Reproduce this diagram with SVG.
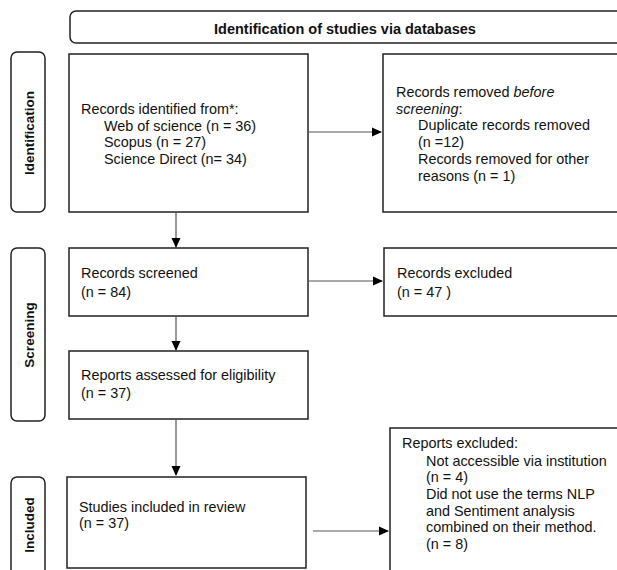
<svg xmlns="http://www.w3.org/2000/svg" width="617" height="570" viewBox="0 0 617 570">
<style>
.box{fill:#fff;stroke:#222;stroke-width:1.5}
.side{fill:#fff;stroke:#222;stroke-width:1.5}
.t{font-family:"Liberation Sans",Arial,sans-serif;font-size:14.4px;fill:#111}
.b{font-family:"Liberation Sans",Arial,sans-serif;font-size:14.5px;font-weight:bold;fill:#111}
.sl{font-family:"Liberation Sans",Arial,sans-serif;font-size:13.5px;font-weight:bold;fill:#111}
.c{stroke:#555;stroke-width:1.2;fill:none;marker-end:url(#ah)}
</style>
<defs>
<marker id="ah" markerWidth="10" markerHeight="10" refX="9" refY="5" orient="auto" markerUnits="userSpaceOnUse">
<path d="M0,0.5 L10,5 L0,9.5 Z" fill="#000"/>
</marker>
</defs>
<rect width="617" height="570" fill="#fff"/>

<g id="header">
<rect class="box" x="70" y="11" width="560" height="32" rx="6"/>
<text class="b" x="345" y="34" text-anchor="middle">Identification of studies via databases</text>
</g>

<g id="side-identification">
<rect class="side" x="11" y="52" width="34" height="160" rx="6"/>
<text class="sl" transform="translate(34,133) rotate(-90)" text-anchor="middle">Identification</text>
</g>
<g id="side-screening">
<rect class="side" x="11" y="248" width="34" height="173" rx="6"/>
<text class="sl" transform="translate(34,335) rotate(-90)" text-anchor="middle">Screening</text>
</g>
<g id="side-included">
<rect class="side" x="11" y="477" width="34" height="110" rx="6"/>
<text class="sl" transform="translate(34,525) rotate(-90)" text-anchor="middle">Included</text>
</g>

<g id="records-identified">
<rect class="box" x="69" y="54" width="239" height="158"/>
<text class="t" x="81" y="114">Records identified from*:</text>
<text class="t" x="104" y="131">Web of science (n = 36)</text>
<text class="t" x="104" y="147">Scopus (n = 27)</text>
<text class="t" x="104" y="164">Science Direct (n= 34)</text>
</g>

<g id="records-removed">
<rect class="box" x="383" y="54" width="250" height="158"/>
<text class="t" x="396" y="97">Records removed <tspan font-style="italic">before</tspan></text>
<text class="t" x="396" y="114"><tspan font-style="italic">screening</tspan>:</text>
<text class="t" x="418" y="130">Duplicate records removed</text>
<text class="t" x="418" y="147">(n =12)</text>
<text class="t" x="418" y="164">Records removed for other</text>
<text class="t" x="418" y="181">reasons (n = 1)</text>
</g>

<g id="records-screened">
<rect class="box" x="69" y="248" width="239" height="68"/>
<text class="t" x="81" y="278">Records screened</text>
<text class="t" x="81" y="297">(n = 84)</text>
</g>

<g id="records-excluded">
<rect class="box" x="384" y="248" width="250" height="68"/>
<text class="t" x="397" y="278">Records excluded</text>
<text class="t" x="397" y="297">(n = 47 )</text>
</g>

<g id="reports-assessed">
<rect class="box" x="69" y="351" width="239" height="68"/>
<text class="t" x="81" y="380">Reports assessed for eligibility</text>
<text class="t" x="81" y="398">(n = 37)</text>
</g>

<g id="studies-included">
<rect class="box" x="67" y="477" width="239" height="91"/>
<text class="t" x="79" y="512">Studies included in review</text>
<text class="t" x="79" y="528">(n = 37)</text>
</g>

<g id="reports-excluded">
<rect class="box" x="390" y="428" width="250" height="160"/>
<text class="t" x="402" y="448">Reports excluded:</text>
<text class="t" x="426" y="466">Not accessible via institution</text>
<text class="t" x="426" y="482">(n = 4)</text>
<text class="t" x="426" y="499">Did not use the terms NLP</text>
<text class="t" x="426" y="516">and Sentiment analysis</text>
<text class="t" x="426" y="532">combined on their method.</text>
<text class="t" x="426" y="549">(n = 8)</text>
</g>

<g id="connectors">
<line class="c" x1="309" y1="132" x2="381" y2="132"/>
<line class="c" x1="176" y1="212" x2="176" y2="247"/>
<line class="c" x1="309" y1="281" x2="382" y2="281"/>
<line class="c" x1="176" y1="316" x2="176" y2="350"/>
<line class="c" x1="176" y1="420" x2="176" y2="475"/>
<line class="c" x1="313" y1="531" x2="388" y2="531"/>
</g>
</svg>
